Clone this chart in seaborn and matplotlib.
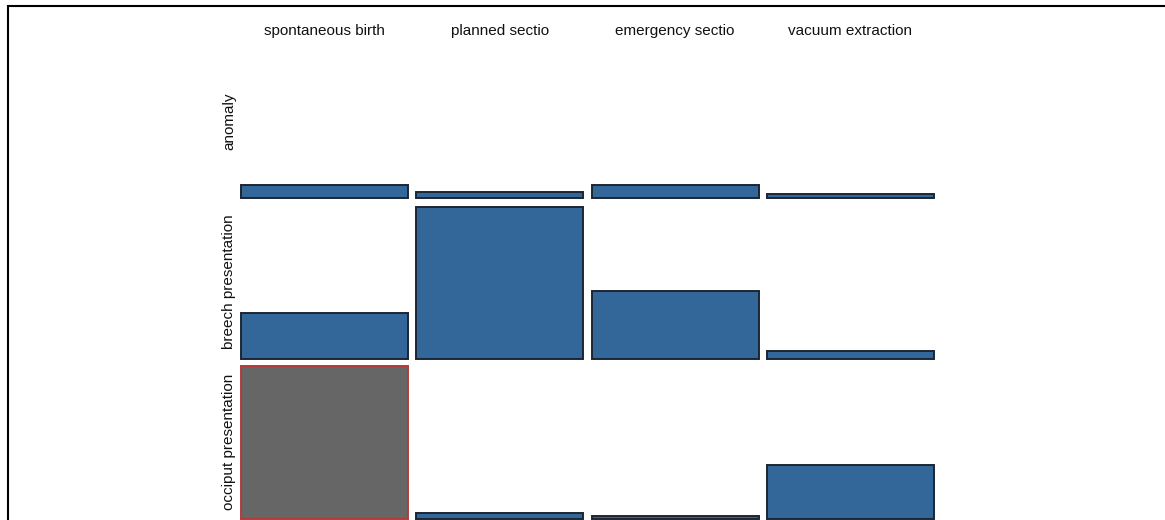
import pandas as pd
import seaborn as sns
import matplotlib.pyplot as plt
from matplotlib.patches import Rectangle

# delivery mode (columns) and fetal presentation (rows)
deliveries = ["spontaneous birth", "planned sectio", "emergency sectio", "vacuum extraction"]
presentations = ["anomaly", "breech presentation", "occiput presentation"]

# share of the cell filled (1.0 = full cell)
anomaly_share = [0.09, 0.04, 0.09, 0.03]
breech_share = [0.30, 0.99, 0.44, 0.05]
occiput_share = [1.00, 0.04, 0.02, 0.35]

# highlighted cell
highlight_cell = ("occiput presentation", "spontaneous birth")

rows = []
for pres, shares in zip(presentations, [anomaly_share, breech_share, occiput_share]):
    for dlv, s in zip(deliveries, shares):
        rows.append({"presentation": pres, "delivery": dlv, "share": s,
                     "highlight": (pres, dlv) == highlight_cell})
df = pd.DataFrame(rows)

sns.set_theme(style="white")
plt.rcParams["font.family"] = ["Liberation Sans", "DejaVu Sans"]

BLUE = "#33679a"
EDGE = "#1c2633"
GRAY = "#666666"
RED = "#b43a3a"


def draw_cell(data, **kws):
    ax = plt.gca()
    hl = bool(data["highlight"].iloc[0])
    sns.barplot(data=data, x="delivery", y="share", width=1.0, saturation=1,
                color=GRAY if hl else BLUE, edgecolor=RED if hl else EDGE,
                linewidth=1.4, ax=ax)
    for p in ax.patches:
        p.set_clip_on(False)
    ax.set_xlim(-0.5, 0.5)
    ax.set_ylim(0, 1)
    ax.set_axis_off()


g = sns.FacetGrid(df, row="presentation", col="delivery",
                  row_order=presentations, col_order=deliveries,
                  sharex=False, sharey=False,
                  height=1.54, aspect=167 / 154, despine=False)
g.map_dataframe(draw_cell)
g.set_titles("")

fig = g.figure
fig.set_size_inches(11.65, 5.2)
W, H = 1165, 520
fig.subplots_adjust(left=241 / W, right=934 / W, top=(H - 45) / H, bottom=1 / H,
                    wspace=8 / 167, hspace=7 / 154)

for j, name in enumerate(deliveries):
    ax = g.axes[0, j]
    pos = ax.get_position()
    fig.text((pos.x0 + pos.x1) / 2, (H - 31) / H, name, ha="center", va="center",
             fontsize=11, color="#111111")

for i, name in enumerate(presentations):
    ax = g.axes[i, 0]
    pos = ax.get_position()
    fig.text(229 / W, (pos.y0 + pos.y1) / 2, name, ha="center", va="center",
             rotation=90, fontsize=11, color="#111111")

# outer frame (only top and left edges fall inside the picture)
fig.patches.append(Rectangle((8 / W, -0.1), 1.2, (H - 6) / H + 0.1,
                             transform=fig.transFigure, fill=False,
                             edgecolor="black", linewidth=1.5))

fig.savefig("out.png", dpi=100)
